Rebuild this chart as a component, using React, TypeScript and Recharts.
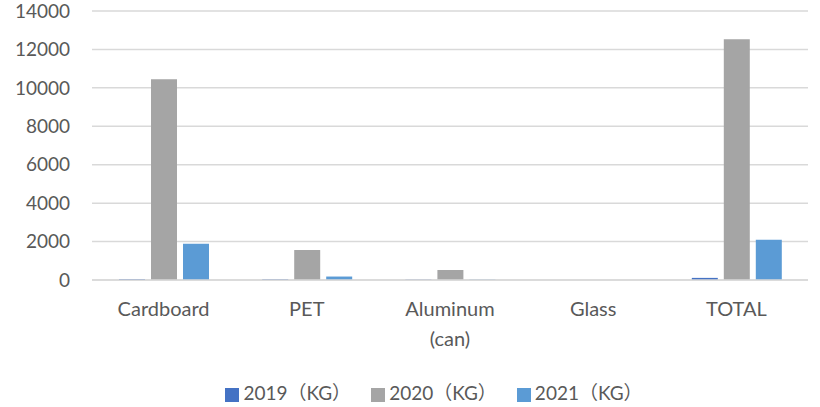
import { Bar, BarChart, CartesianGrid, Legend, XAxis, YAxis } from "recharts"

const categories = ["Cardboard", "PET", "Aluminum (can)", "Glass", "TOTAL"]
const kg2019 = [50, 40, 20, 0, 110]
const kg2020 = [10450, 1560, 520, 0, 12530]
const kg2021 = [1890, 180, 20, 0, 2090]
const yTicks = [0, 2000, 4000, 6000, 8000, 10000, 12000, 14000]

const data = categories.map((name, i) => ({
  name,
  y2019: kg2019[i],
  y2020: kg2020[i],
  y2021: kg2021[i],
}))

const font = "Lato, 'Noto Sans CJK SC', sans-serif"
const textColor = "#595959"

function CategoryTick(props: any) {
  const { x, y, payload } = props
  const words = String(payload.value).split(" ")
  return (
    <text x={x} y={y} textAnchor="middle" fill={textColor} fontSize={20} fontFamily={font}>
      {words.map((w, i) => (
        <tspan key={i} x={x} dy={i === 0 ? 28 : 30}>
          {w}
        </tspan>
      ))}
    </text>
  )
}

export default function App() {
  return (
    <div style={{ position: "absolute", left: 0, top: 0, background: "#fff" }}>
      <BarChart
        width={820}
        height={407}
        data={data}
        margin={{ top: 11, right: 12, bottom: 2, left: 0 }}
        barGap={6}
        barSize={26}
      >
        <CartesianGrid vertical={false} stroke="#d9d9d9" strokeWidth={1.5} />
        <XAxis
          dataKey="name"
          tick={<CategoryTick />}
          tickLine={false}
          axisLine={{ stroke: "#d9d9d9", strokeWidth: 1.5 }}
          interval={0}
          height={98}
        />
        <YAxis
          domain={[0, 14000]}
          ticks={yTicks}
          width={92}
          tickLine={false}
          axisLine={false}
          tickMargin={16}
          tick={{ fill: textColor, fontSize: 19, fontFamily: font }}
        />
        <Legend
          verticalAlign="bottom"
          iconType="square"
          iconSize={14}
          wrapperStyle={{ fontFamily: font, fontSize: 19, paddingLeft: 40 }}
          formatter={(v) => <span style={{ color: textColor, marginRight: 10 }}>{v}</span>}
        />
        <Bar dataKey="y2019" name="2019（KG）" fill="#4472C4" isAnimationActive={false} />
        <Bar dataKey="y2020" name="2020（KG）" fill="#A5A5A5" isAnimationActive={false} />
        <Bar dataKey="y2021" name="2021（KG）" fill="#5B9BD5" isAnimationActive={false} />
      </BarChart>
    </div>
  )
}
